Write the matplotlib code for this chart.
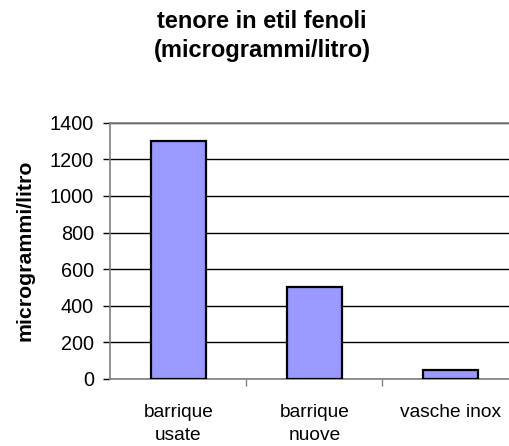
import matplotlib
matplotlib.use("Agg")
import matplotlib.pyplot as plt
import numpy as np

plt.rcParams['font.family'] = ['Liberation Sans', 'DejaVu Sans']

categorie = ['barrique\nusate', 'barrique\nnuove', 'vasche inox']
valori = [1300, 500, 50]
yticks = [0, 200, 400, 600, 800, 1000, 1200, 1400]

W, H = 510, 446
fig = plt.figure(figsize=(W/100, H/100), dpi=100)
# plot area runs a bit past the right edge, as in the original
ax = fig.add_axes([110.5/W, 1-379/H, 408/W, 256.3/H])

x = np.arange(len(categorie))
ax.bar(x, valori, width=0.41, color='#9999FF', edgecolor='black', linewidth=1.6, zorder=3)
ax.set_xlim(-0.5, 2.5)
ax.set_ylim(0, 1400)
ax.set_yticks(yticks)
ax.set_yticklabels([str(v) for v in yticks], fontsize=14.3)
ax.yaxis.grid(True, color='black', linewidth=1, zorder=0)
ax.set_axisbelow(True)

ax.set_xticks([0.5, 1.5])
ax.set_xticklabels([])
ax.tick_params(axis='x', length=5, width=1, color='#808080')
ax.tick_params(axis='y', length=5, width=1, color='black', pad=7)

# category labels, one line at a time
for i, c in enumerate(categorie):
    for j, riga in enumerate(c.split('\n')):
        fig.text((110.5 + 136*(i+0.5))/W, 1-(417 + 23*j)/H, riga,
                 ha='center', va='baseline', fontsize=13.8)

for s in ax.spines.values():
    s.set_color('#808080')
    s.set_linewidth(1.2)

fig.text(25/W, 1-250/H, 'microgrammi/litro', rotation=90, ha='center', va='center',
         fontsize=15.3, fontweight='bold')
fig.text(262/W, 1-28/H, 'tenore in etil fenoli', ha='center', va='baseline',
         fontsize=17, fontweight='bold')
fig.text(262/W, 1-57/H, '(microgrammi/litro)', ha='center', va='baseline',
         fontsize=17, fontweight='bold')

fig.savefig('out.png', dpi=100)
